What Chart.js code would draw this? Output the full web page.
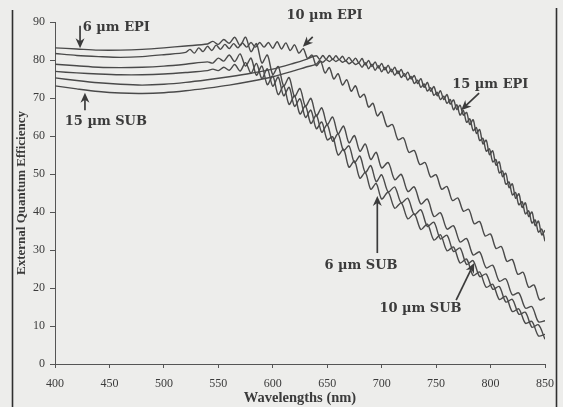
<!DOCTYPE html>
<html><head><meta charset="utf-8">
<script src="https://cdn.jsdelivr.net/npm/chart.js@4.4.0/dist/chart.umd.min.js"></script>
<style>html,body{margin:0;padding:0;background:#ededeb;}canvas{display:block;}</style>
</head><body>
<canvas id="c" width="563" height="407"></canvas>
<script>
// ---- wavelength samples (nm) ----
const wlSteep = [400,420,440,460,480,500,520,540,545,550,555,560,565,570,575,580,585,590,595,600,605,610,615,620,625,630,635,640,645,650,655,660,665,670,675,680,685,690,695,700,706,712,718,724,730,736,742,748,754,760,766,772,778,784,790,796,802,808,814,820,826,832,838,844,850];
const wlEpi10 = [400,420,440,460,480,500,520,524,528,532,536,540,544,548,552,556,560,564,568,572,576,580,584,588,592,596,600,604,608,612,616,620,624,628,632,636,640,644,648,652,656,660,664,668,672,676,680,684,688,692,696,700,705,710,715,720,725,730,735,740,745,750,755,760,765,770,775,780,785,790,795,800,805,810,815,820,825,830,835,840,845,850];
const wlBand = [400,420,440,460,480,500,520,540,560,580,600,620,630,640,643,646,649,652,655,658,661,664,667,670,673,676,679,682,685,688,691,694,697,700,703,706,709,712,715,718,721,724,727,730,733,736,739,742,745,748,751,754,757,760,763,766,769,772,775,778,781,784,787,790,793,796,799,802,805,808,811,814,817,820,823,826,829,832,835,838,841,844,847,850];

// ---- external quantum efficiency (%) ----
const eqeEpi6 = [83.2,82.9,82.6,82.6,82.8,83.2,83.7,84.2,
 84.9,84.1,85.4,84.4,86,83.8,86,82.2,84.3,79.2,81.3,76.2,78.3,73.2,75.4,70.4,72.5,67.8,69.9,65.3,67.4,63,65,60.6,62.6,58.2,60.1,56,57.9,53.8,55.7,51.6,
 53,48.5,49.9,45.4,46.6,42.1,43.4,38.8,39.8,35.5,36.4,32.1,33,28.7,29.5,25.3,26,21.8,22.4,18.2,18.7,14.7,15.1,11.1,11.4];
const eqeSub6 = [78.9,78.5,78.1,78.0,78.1,78.4,78.9,79.5,
 79.2,80.5,79.7,81.3,79.6,81.6,78.4,80.5,76,78.4,73.5,75.8,70.9,73.2,68.3,70.6,65.8,67.9,63.3,65.5,61,63,58.6,60.6,56.2,57.4,53,54.7,50.4,52.2,48,49.8,
 45.3,46.6,42.4,43.6,39.3,40.6,36.2,37.3,32.9,33.9,29.6,30.5,26.2,27.2,23,23.7,19.7,20.4,16.3,17,13.1,13.6,9.7,10.3,6.5];
const eqeSub10 = [77.0,76.6,76.3,76.1,76.1,76.3,76.7,77.2,
 77.6,77.2,78.1,77.3,78.8,77.1,79.3,76.5,79.1,75.1,77.7,73.1,75.5,70.6,72.8,67.8,69.8,64.9,66.8,61.9,63.7,59,59.8,55,56.5,51.8,53.4,48.9,50.4,46,47.5,43.4,
 45.2,41,42.4,38.2,39.5,35.4,36.8,32.6,34,29.8,30.8,26.6,27.6,23.3,24.2,20.2,21,17,17.8,13.8,14.5,10.7,11.2,7.4,7.8];
const eqeEpi10 = [81.7,81.2,80.9,80.7,80.9,81.4,82.0,
 82.8,81.8,83.2,82.2,83.6,82.5,83.9,82.8,84.1,83,84.3,83.2,84.5,83.4,84.6,83.4,84.6,83.4,84.6,83.1,
 84.8,82.9,84.5,82.5,84,81.8,83,80.4,81.3,78.5,79.6,76.6,78,75,76.4,73.4,74.8,71.8,73.2,70.2,71,67.6,68.6,65.3,66.4,
 62.5,63,59,59.5,55.7,56.2,52.5,53,49.2,49.8,46,46.7,43,43.7,40.2,40.7,36.9,37.5,33.7,34.2,30.4,30.9,27,27.5,23.6,24.1,20.2,20.8,16.9,17.4];
const eqeEpi15 = [75.3,74.6,74.0,73.6,73.4,73.6,74.1,74.8,75.6,76.5,77.6,79.2,80.1,
 81.1,80.2,81.2,80.2,81.2,80.2,81.1,80.1,81,79.8,80.7,79.6,80.5,79.3,80.4,78.7,79.9,78.3,79.5,77.9,
 79.1,77.4,78.6,76.9,78.1,76.4,77.5,75.7,76.8,75,75.9,73.8,75.1,72.8,74.1,71.8,73,70.6,71.9,69.6,
 70.9,68.4,69.5,67,68.1,65.5,66.2,63,64.3,60.7,61.7,57.9,58.9,55.1,56.1,52.3,53.2,49.3,50.2,46.4,
 47.4,43.6,44.8,41.2,42.4,38.8,40,36.4,37.6,34,35.2];
const eqeSub15 = [73.2,72.4,71.7,71.3,71.2,71.4,71.9,72.6,73.4,74.4,75.6,77.2,78.1,
 78.9,79.8,79.4,80.1,79.6,80.2,79.6,80.1,79.4,79.8,79,79.5,78.8,79.2,78.1,79.3,77.7,78.9,77.3,78.5,
 76.9,78.1,76.5,77.6,76,77.1,75.4,76.4,74.7,75.7,73.8,74.7,72.8,73.7,71.8,72.7,70.7,71.5,69.6,70.5,
 68.6,69.6,66.9,68.2,65.5,66.7,63.6,64.5,61.4,62.2,58.8,59.4,56,56.6,53.2,53.8,50.3,50.8,47.3,47.9,
 44.5,45.1,41.9,42.7,39.5,40.3,37.1,37.9,34.7,35.5,32.3];

const xTicks = [400,450,500,550,600,650,700,750,800,850];
const yTicks = [0,10,20,30,40,50,60,70,80,90];

// labels with arrows, in data units: text anchor (tx,ty), arrow from (fx,fy) to head (hx,hy)
const labels = [
  {text:'6 µm EPI',  tx:425.5, ty:88.6, fx:423,   fy:89.0, hx:423,   hy:83.1},
  {text:'15 µm SUB', tx:409,   ty:63.7, fx:427.5, fy:66.8, hx:427.5, hy:71.4},
  {text:'10 µm EPI', tx:612.6, ty:91.8, fx:636.7, fy:86.1, hx:627.6, hy:83.5},
  {text:'15 µm EPI', tx:764.8, ty:73.4, fx:789.5, fy:71.3, hx:773,   hy:66.8},
  {text:'6 µm SUB',  tx:647.5, ty:26.0, fx:696,   fy:29.2, hx:696,   hy:44.2},
  {text:'10 µm SUB', tx:697.9, ty:14.7, fx:768.4, fy:16.8, hx:785,   hy:26.6}
];

const INK = '#3b3b3b';
const LINE = '#4a4a4a';
function pts(wl, v){ return wl.map((w,i)=>({x:w, y:v[i]})); }
function ds(label, wl, v){
  return {label, data: pts(wl,v), borderColor: LINE, borderWidth: 1.4, pointRadius: 0, tension: 0.3, fill:false};
}

const decor = {
  id:'decor',
  beforeDraw(chart){
    const c = chart.ctx; c.save(); c.fillStyle = '#ededeb'; c.fillRect(0,0,chart.width,chart.height); c.restore();
  },
  afterDraw(chart){
    const c = chart.ctx, xs = chart.scales.x, ys = chart.scales.y;
    c.save();
    c.strokeStyle = '#2f2f2f'; c.lineWidth = 1.6;
    c.beginPath(); c.moveTo(12.5,10); c.lineTo(12.5,407); c.moveTo(556.5,8); c.lineTo(556.5,407); c.stroke();
    c.font = "bold 13px 'DejaVu Serif'"; c.fillStyle = INK; c.textBaseline = 'middle'; c.textAlign = 'left';
    labels.forEach(a=>{
      c.fillText(a.text, xs.getPixelForValue(a.tx), ys.getPixelForValue(a.ty));
      const x0 = xs.getPixelForValue(a.fx), y0 = ys.getPixelForValue(a.fy);
      const x1 = xs.getPixelForValue(a.hx), y1 = ys.getPixelForValue(a.hy);
      const ang = Math.atan2(y1-y0, x1-x0), L = 10, W = 4.5;
      const cs = Math.cos(ang), sn = Math.sin(ang);
      const bx = x1 - L*cs, by = y1 - L*sn;
      c.strokeStyle = INK; c.lineWidth = 1.7;
      c.beginPath(); c.moveTo(x0,y0); c.lineTo(x1 - 5*cs, y1 - 5*sn); c.stroke();
      c.fillStyle = INK;
      c.beginPath(); c.moveTo(x1,y1);
      c.lineTo(bx - W*sn, by + W*cs);
      c.lineTo(x1 - 0.7*L*cs, y1 - 0.7*L*sn);
      c.lineTo(bx + W*sn, by - W*cs);
      c.closePath(); c.fill();
    });
    c.restore();
  }
};

new Chart(document.getElementById('c'), {
  type:'line',
  data:{ datasets:[
    ds('6 µm EPI', wlSteep, eqeEpi6),
    ds('10 µm EPI', wlEpi10, eqeEpi10),
    ds('6 µm SUB', wlSteep, eqeSub6),
    ds('10 µm SUB', wlSteep, eqeSub10),
    ds('15 µm EPI', wlBand, eqeEpi15),
    ds('15 µm SUB', wlBand, eqeSub15)
  ]},
  options:{
    responsive:false, animation:false,
    layout:{ padding:{left:0, right:17, top:22, bottom:0} },
    plugins:{ legend:{display:false}, tooltip:{enabled:false} },
    scales:{
      x:{ type:'linear', min:400, max:850,
        afterBuildTicks(s){ s.ticks = xTicks.map(v=>({value:v})); },
        afterFit(s){ s.height = 43; },
        ticks:{ color:INK, font:{family:"'Liberation Serif'", size:12}, padding:9, maxRotation:0 },
        grid:{ display:true, drawOnChartArea:false, drawTicks:true, tickLength:4, color:'#555' },
        border:{ display:true, color:'#555', width:1 },
        title:{ display:true, text:'Wavelengths (nm)', color:INK, font:{family:"'Liberation Serif'", size:14.5, weight:'bold'}, padding:{top:0,bottom:0} }
      },
      y:{ type:'linear', min:0, max:90,
        afterBuildTicks(s){ s.ticks = yTicks.map(v=>({value:v})); },
        afterFit(s){ s.width = 55; },
        ticks:{ color:INK, font:{family:"'Liberation Serif'", size:12}, padding:5 },
        grid:{ display:true, drawOnChartArea:false, drawTicks:true, tickLength:5, color:'#555' },
        border:{ display:true, color:'#555', width:1 },
        title:{ display:true, text:'External Quantum Efficiency', color:INK, font:{family:"'Liberation Serif'", size:13, weight:'bold'}, padding:{top:14,bottom:0} }
      }
    }
  },
  plugins:[decor]
});
</script>
</body></html>
